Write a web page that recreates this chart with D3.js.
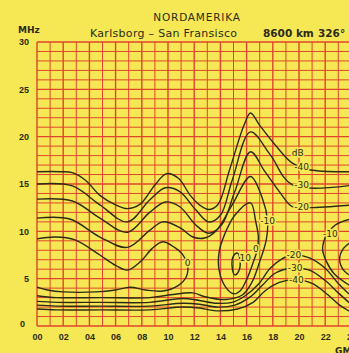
<!DOCTYPE html>
<html>
<head>
<meta charset="utf-8">
<script src="https://cdnjs.cloudflare.com/ajax/libs/d3/7.8.5/d3.min.js"></script>
<style>
  body { margin: 0; background: #f6e854; }
  svg { display: block; font-family: 'DejaVu Sans', sans-serif; }
</style>
</head>
<body>
<div id="chart"></div>
<script>
// hour ticks (GMT) and frequency ticks (MHz)
let hourTicks = [0, 2, 4, 6, 8, 10, 12, 14, 16, 18, 20, 22, 24];
let hourLabels = ["00", "02", "04", "06", "08", "10", "12", "14", "16", "18", "20", "22", "24"];
let mhzTicks = [0, 5, 10, 15, 20, 25, 30];

// contour lines, [hour, MHz]
let upperM40 = [[0, 16.3], [1.8, 16.3], [2.7, 16.2], [3.7, 15.4], [4.8, 13.8], [6.0, 12.8], [6.9, 12.4], [7.9, 12.9], [9.0, 14.9], [9.9, 16.1], [10.8, 15.6], [11.7, 13.8], [12.4, 12.8], [13.1, 12.3], [13.8, 12.8], [14.7, 16.5], [15.8, 21.2], [16.3, 22.5], [17.0, 21.2], [18.2, 19.1], [19.5, 17.2], [20.8, 16.5], [24.2, 16.3]];
let upperM30 = [[0, 15.0], [2.7, 14.8], [4.8, 12.8], [6.9, 11.0], [8.6, 13.3], [9.8, 14.6], [10.9, 14.2], [12.1, 12.3], [13.1, 11.0], [14.0, 11.7], [14.9, 15.4], [16.3, 20.5], [17.8, 18.1], [19.5, 14.9], [24.2, 14.9]];
let upperM20 = [[0, 13.4], [2.7, 13.2], [4.8, 11.4], [6.9, 9.9], [8.6, 12.0], [9.8, 13.1], [10.9, 12.6], [12.1, 10.7], [13.1, 9.8], [14.1, 10.7], [15.1, 14.2], [16.3, 18.4], [17.4, 16.3], [18.5, 14.2], [19.5, 12.6], [20.8, 12.5], [24.2, 12.8]];
let ringM10 = [[0, 11.4], [2.5, 11.3], [4.8, 9.4], [6.9, 8.3], [8.6, 10.1], [9.6, 11.0], [10.9, 10.4], [11.9, 9.4], [12.8, 9.3], [13.7, 10.1], [14.9, 12.8], [16.3, 15.8], [17.2, 13.5], [17.6, 11.1], [17.5, 9.1], [17.0, 6.8], [16.4, 4.6], [15.7, 3.3], [14.4, 2.8], [12.8, 3.1], [11.9, 3.5], [10.2, 3.3], [8.6, 3.0], [4.8, 3.0], [1.5, 3.0], [0, 3.2]];
let leftZero = [[0, 9.2], [1.4, 9.4], [2.9, 9.1], [4.8, 7.5], [6.0, 6.4], [6.9, 5.9], [7.9, 6.8], [8.8, 8.2], [9.6, 8.9], [10.5, 8.3], [11.1, 7.6], [11.5, 6.4], [11.4, 5.2], [10.8, 4.3], [9.6, 3.7], [8.3, 3.8], [7.1, 4.1], [6.0, 3.8], [4.5, 3.6], [2.0, 3.6], [0.8, 3.8], [0, 4.1]];
let midZero = [[16.3, 13.0], [16.7, 11.0], [16.9, 9.4], [16.8, 8.0], [16.5, 6.7], [16.0, 4.9], [15.5, 3.7], [15.0, 3.4], [14.4, 4.1], [13.9, 5.9], [13.9, 7.8], [14.3, 9.6], [15.1, 11.7]];
let midTen = [[15.0, 7.4], [15.3, 7.7], [15.5, 6.9], [15.4, 5.8], [15.1, 5.4], [14.9, 6.2]];
let lowerM20 = [[0, 2.6], [1.5, 2.5], [4.8, 2.5], [8.6, 2.5], [11.1, 2.9], [12.4, 2.7], [13.7, 2.4], [14.9, 2.5], [15.9, 3.2], [16.9, 4.4], [17.8, 6.1], [18.7, 7.1], [19.5, 7.5], [20.8, 7.2], [22.0, 6.1], [23.0, 4.5], [24.2, 2.9]];
let lowerM30 = [[0, 2.2], [1.5, 2.1], [4.8, 2.1], [8.6, 2.1], [11.1, 2.4], [12.4, 2.3], [13.7, 2.0], [15.1, 2.2], [16.3, 3.1], [17.2, 4.3], [18.2, 5.6], [19.5, 6.1], [20.8, 5.9], [22.0, 4.8], [23.0, 3.5], [24.2, 2.0]];
let lowerM40 = [[0, 1.8], [1.5, 1.7], [4.8, 1.7], [8.6, 1.7], [11.1, 2.0], [12.4, 1.9], [13.7, 1.6], [15.3, 1.8], [16.5, 2.5], [17.4, 3.7], [18.5, 4.6], [19.7, 4.9], [21.0, 4.5], [22.2, 3.3], [23.1, 2.2], [24.2, 1.3]];
let rightM10 = [[24.2, 11.4], [22.8, 10.7], [22.1, 9.6], [21.8, 8.1], [22.1, 6.8], [22.7, 5.5], [24.2, 4.0]];
let rightZero = [[24.2, 9.1], [23.4, 8.2], [23.1, 7.1], [23.4, 5.9], [24.2, 5.1]];

// level labels [hour, MHz, text]
let levelLabels = [[19.9, 18.3, "dB"], [20.2, 16.8, "-40"], [20.2, 14.9, "-30"], [20.2, 12.6, "-20"],
    [17.6, 11.1, "-10"], [16.7, 8.2, "0"], [15.9, 7.2, "10"], [11.5, 6.7, "0"], [22.4, 9.7, "-10"],
    [19.6, 7.5, "-20"], [19.7, 6.1, "-30"], [19.8, 4.9, "-40"]];

let yellow = '#f6e854';
let red = '#e0462c';
let ink = '#2c2c16';

let svg = d3.select('#chart').append('svg')
    .attr('width', 349)
    .attr('height', 353)
    .style('background', yellow);

let x = d3.scaleLinear().domain([0, 24]).range([37, 351.4]);
let y = d3.scaleLinear().domain([0, 30]).range([326, 42]);

// grid
let grid = svg.append('g');
grid.selectAll('line.v').data(d3.range(0, 25)).enter().append('line')
    .attr('x1', d => x(d)).attr('x2', d => x(d))
    .attr('y1', y(0)).attr('y2', y(30))
    .attr('stroke', red)
    .attr('stroke-width', d => d % 2 == 0 ? 1.4 : 1);
grid.selectAll('line.h').data(d3.range(0, 31)).enter().append('line')
    .attr('x1', x(0)).attr('x2', x(24))
    .attr('y1', d => y(d)).attr('y2', d => y(d))
    .attr('stroke', red)
    .attr('stroke-width', d => d % 5 == 0 ? 1.4 : 1);

// contours
let line = d3.line()
    .x(d => x(d[0]))
    .y(d => y(d[1]))
    .curve(d3.curveCatmullRom.alpha(0.5));
let ring = d3.line()
    .x(d => x(d[0]))
    .y(d => y(d[1]))
    .curve(d3.curveCatmullRomClosed.alpha(0.5));

let openLines = [upperM40, upperM30, upperM20, ringM10, leftZero, lowerM20, lowerM30, lowerM40, rightM10, rightZero];
let closedLines = [midZero, midTen];

svg.append('g').selectAll('path').data(openLines).enter().append('path')
    .attr('d', line)
    .attr('fill', 'none')
    .attr('stroke', ink)
    .attr('stroke-width', 1.4);
svg.append('g').selectAll('path').data(closedLines).enter().append('path')
    .attr('d', ring)
    .attr('fill', 'none')
    .attr('stroke', ink)
    .attr('stroke-width', 1.4);

svg.append('g').selectAll('text').data(levelLabels).enter().append('text')
    .attr('x', d => x(d[0]))
    .attr('y', d => y(d[1]))
    .attr('dy', '0.35em')
    .attr('text-anchor', 'middle')
    .attr('font-size', 9)
    .attr('fill', ink)
    .attr('stroke', yellow)
    .attr('stroke-width', 3)
    .attr('paint-order', 'stroke')
    .text(d => d[2]);

// axes
let xAxis = d3.axisBottom(x)
    .tickValues(hourTicks)
    .tickSize(0)
    .tickPadding(8)
    .tickFormat((d, i) => hourLabels[i]);
let gx = svg.append('g').attr('transform', 'translate(0,' + y(0) + ')').call(xAxis);

let yAxis = d3.axisLeft(y)
    .tickValues(mhzTicks)
    .tickSize(0)
    .tickPadding(8);
let gy = svg.append('g').attr('transform', 'translate(' + x(0) + ',0)').call(yAxis);

[gx, gy].forEach(g => {
    g.select('.domain').remove();
    g.selectAll('text')
        .attr('font-size', 9)
        .attr('font-weight', 'bold')
        .attr('fill', ink)
        .attr('font-family', null);
});
gy.selectAll('.tick').filter(d => d == 0).select('text')
    .attr('x', -12).attr('dy', '0.1em');

// titles
svg.append('text').attr('x', 197).attr('y', 21)
    .attr('text-anchor', 'middle').attr('font-size', 10.5).attr('letter-spacing', 0.8)
    .attr('fill', ink).text('NORDAMERIKA');
svg.append('text').attr('x', 90).attr('y', 37)
    .attr('font-size', 11).attr('letter-spacing', 0.3).attr('fill', ink).text('Karlsborg – San Fransisco');
svg.append('text').attr('x', 263).attr('y', 37)
    .attr('font-size', 10.5).attr('font-weight', 'bold').attr('fill', ink).text('8600 km');
svg.append('text').attr('x', 318).attr('y', 37)
    .attr('font-size', 10.5).attr('font-weight', 'bold').attr('fill', ink).text('326°');
svg.append('text').attr('x', 18).attr('y', 33)
    .attr('font-size', 9).attr('font-weight', 'bold').attr('fill', ink).text('MHz');
svg.append('text').attr('x', 335).attr('y', 354)
    .attr('font-size', 9).attr('font-weight', 'bold').attr('fill', ink).text('GMT');
</script>
</body>
</html>
